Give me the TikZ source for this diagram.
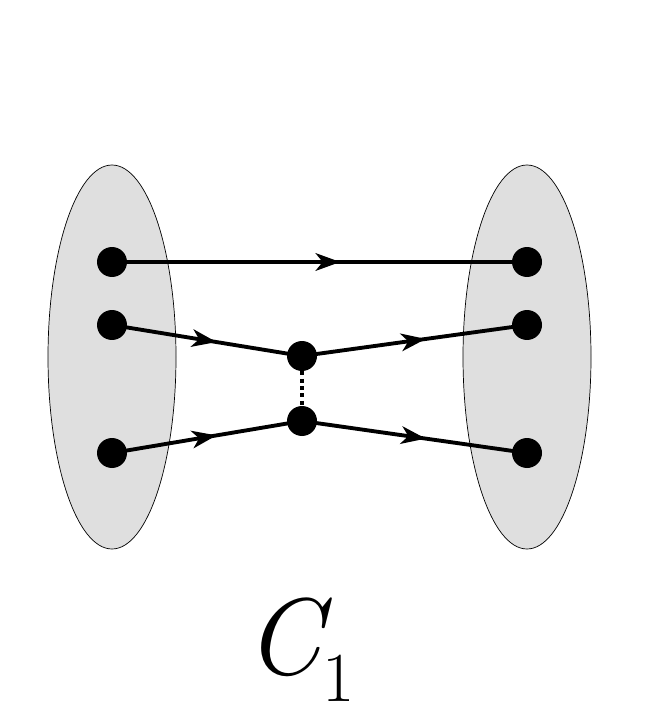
\documentclass[tikz,border=0pt]{standalone}
\usetikzlibrary{decorations.markings,arrows.meta}
\tikzset{
  blob/.style={draw, thin, fill=gray!25},
  dot/.style={circle, fill=black, inner sep=0pt, minimum size=0.6cm},
  wire/.style={line width=2.2pt, postaction={decorate}, decoration={markings,
    mark=at position 0.55 with {\arrow{Stealth[length=14pt,width=10pt,inset=4pt]}}}}
}
\begin{document}
\begin{tikzpicture}[x=0.02cm,y=-0.02cm]
\useasboundingbox (0,0) rectangle (653,719);

\draw[blob] (112,357) ellipse (64 and 192);
\draw[blob] (527,357) ellipse (64 and 192);

\node[dot] (l1) at (112,262) {};
\node[dot] (l2) at (112,325) {};
\node[dot] (l3) at (112,453) {};
\node[dot] (r1) at (527,262) {};
\node[dot] (r2) at (527,325) {};
\node[dot] (r3) at (527,453) {};
\node[dot] (m1) at (302,356) {};
\node[dot] (m2) at (302,421) {};

\draw[wire] (l1.center) -- (r1.center);
\draw[wire] (l2.center) -- (m1.center);
\draw[wire] (m1.center) -- (r2.center);
\draw[wire] (l3.center) -- (m2.center);
\draw[wire] (m2.center) -- (r3.center);
\draw[line width=2.2pt, dotted] (m1) -- (m2);

\node (lbl) at (300,650) {\fontsize{62}{70}\selectfont\itshape C\raisebox{-0.25em}{\upshape\fontsize{40}{44}\selectfont 1}};
\end{tikzpicture}
\end{document}
